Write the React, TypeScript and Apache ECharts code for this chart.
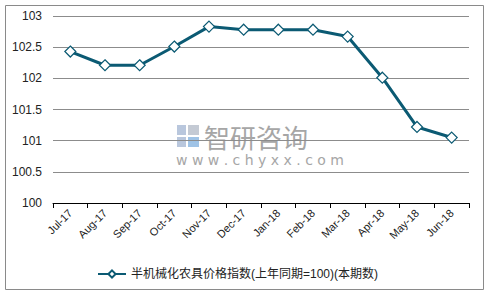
import React, { useEffect, useRef } from "react";
import * as echarts from "echarts";

const categories = ["Jul-17", "Aug-17", "Sep-17", "Oct-17", "Nov-17", "Dec-17", "Jan-18", "Feb-18", "Mar-18", "Apr-18", "May-18", "Jun-18"];
const values = [102.43, 102.21, 102.21, 102.51, 102.83, 102.78, 102.78, 102.78, 102.67, 102.01, 101.22, 101.05];
const seriesName = "半机械化农具价格指数(上年同期=100)(本期数)";
const yTicks = { min: 100, max: 103, interval: 0.5 };

const FONT = "'Liberation Sans', Arial, 'Noto Sans CJK SC', sans-serif";
const LINE = "#0b5a73";

export default function App() {
  const ref = useRef<HTMLDivElement>(null);
  useEffect(() => {
    const chart = echarts.init(ref.current!, null, { renderer: "svg" });
    chart.setOption({
      animation: false,
      backgroundColor: "#ffffff",
      textStyle: { fontFamily: FONT },
      grid: { left: 53, right: 20, top: 16, bottom: 93 },
      graphic: [
        { type: "rect", shape: { x: 5.5, y: 5.5, width: 478, height: 284 }, style: { fill: "none", stroke: "#8a8a8a", lineWidth: 1 }, silent: true },
        { type: "rect", shape: { x: 177, y: 125, width: 9, height: 10 }, style: { fill: "#b9c7dd" }, silent: true, z: -1 },
        { type: "rect", shape: { x: 177, y: 137, width: 9, height: 10 }, style: { fill: "#b9c7dd" }, silent: true, z: -1 },
        { type: "rect", shape: { x: 188, y: 125, width: 11, height: 10 }, style: { fill: "#c4cad4" }, silent: true, z: -1 },
        { type: "rect", shape: { x: 188, y: 137, width: 11, height: 10 }, style: { fill: "#9fc3e6" }, silent: true, z: -1 },
        { type: "text", x: 204, y: 136, style: { text: "智研咨询", font: "26px 'Noto Sans CJK SC'", fill: "#a6a6a6", textVerticalAlign: "middle" }, silent: true, z: -1 },
        { type: "text", x: 176, y: 160, style: { text: "w w w . c h y x x . c o m", font: "14px 'DejaVu Sans'", fill: "#a6a6a6", textVerticalAlign: "middle" }, silent: true, z: -1 },
      ],
      legend: {
        left: 92,
        top: 263,
        itemWidth: 28,
        itemHeight: 9,
        itemGap: 4,
        textStyle: { fontSize: 12, color: "#222", fontFamily: FONT },
        data: [seriesName],
      },
      xAxis: {
        type: "category",
        data: categories,
        boundaryGap: true,
        axisLine: { lineStyle: { color: "#000", width: 1 } },
        axisTick: { show: true, alignWithLabel: false, length: 5, lineStyle: { color: "#000" } },
        axisLabel: { rotate: 45, fontSize: 11, color: "#222", margin: 8, interval: 0 },
      },
      yAxis: {
        type: "value",
        min: yTicks.min,
        max: yTicks.max,
        interval: yTicks.interval,
        axisLine: { show: false },
        axisTick: { show: false },
        splitLine: { lineStyle: { color: "#8c8c8c", width: 1 } },
        axisLabel: { fontSize: 12, color: "#222", margin: 11 },
      },
      series: [
        {
          name: seriesName,
          type: "line",
          data: values,
          symbol: "diamond",
          symbolSize: 11,
          lineStyle: { color: LINE, width: 3 },
          itemStyle: { color: "#ffffff", borderColor: LINE, borderWidth: 1.2 },
        },
      ],
    });
    return () => chart.dispose();
  }, []);
  return <div ref={ref} style={{ position: "fixed", left: 0, top: 0, width: 489, height: 296 }} />;
}
